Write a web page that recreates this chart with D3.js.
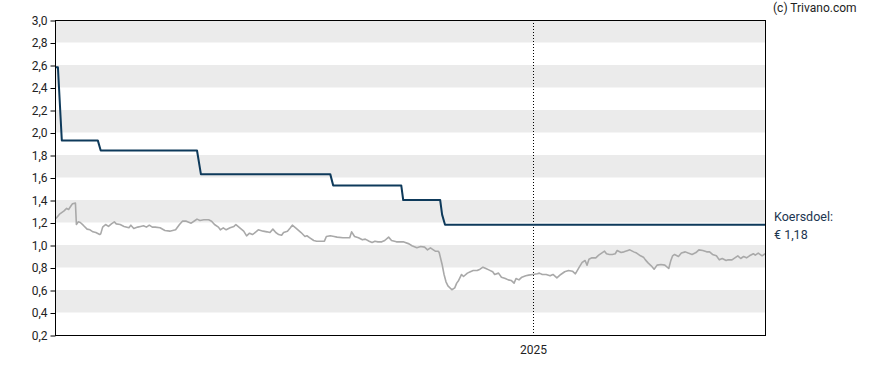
<!DOCTYPE html>
<html>
<head>
<meta charset="utf-8">
<script src="https://cdn.jsdelivr.net/npm/d3@7"></script>
<style>
  body { margin: 0; background: #fff; }
  svg { display: block; font-family: Roboto, "Noto Sans", sans-serif; }
</style>
</head>
<body>
<div id="chart"></div>
<script>
// start of the date axis, all day offsets below count from here
var startDate = "2023-08-29"
var endDay = 731

// koersdoel (price target), step line
var targetDay = [0, 3, 7, 44, 47, 146, 150, 283, 286, 356, 358, 396, 398, 401, 731]
var targetValue = [2.58, 2.58, 1.93, 1.93, 1.84, 1.84, 1.63, 1.63, 1.53, 1.53, 1.40, 1.40, 1.27, 1.18, 1.18]

// share price
var priceDay = [1, 5, 9, 12, 14, 16, 18, 21, 22, 24, 26, 29, 33, 36, 39, 42, 46, 47, 49, 52,
  55, 58, 61, 63, 67, 71, 76, 78, 81, 85, 88, 91, 94, 97, 100, 103, 108, 113, 118, 124,
  128, 131, 135, 140, 144, 146, 149, 153, 158, 161, 164, 168, 170, 173, 176, 180, 184, 186, 190, 194,
  197, 200, 203, 205, 209, 214, 218, 221, 224, 227, 230, 233, 235, 239, 242, 244, 248, 253, 257, 259,
  262, 266, 269, 273, 277, 279, 283, 287, 290, 296, 301, 303, 305, 308, 312, 316, 319, 323, 326, 329,
  332, 336, 339, 343, 346, 351, 358, 364, 367, 372, 376, 380, 383, 386, 389, 391, 394, 395, 398, 400,
  402, 404, 408, 411, 413, 415, 418, 420, 424, 427, 430, 434, 437, 440, 443, 446, 450, 452, 456, 459,
  463, 466, 469, 472, 474, 477, 480, 484, 487, 491, 496, 498, 501, 505, 509, 512, 516, 520, 524, 528,
  532, 535, 539, 542, 545, 547, 549, 552, 556, 559, 562, 565, 567, 570, 573, 576, 578, 582, 585, 589,
  591, 595, 598, 602, 605, 607, 610, 613, 616, 619, 623, 627, 631, 633, 635, 637, 641, 644, 648, 651,
  655, 659, 662, 666, 670, 673, 676, 680, 683, 686, 690, 692, 696, 699, 702, 705, 708, 711, 714, 718,
  720, 723, 727, 730]
var priceValue = [1.236, 1.277, 1.301, 1.325, 1.316, 1.342, 1.366, 1.372, 1.182, 1.206, 1.200, 1.176, 1.141, 1.135, 1.117, 1.111, 1.093, 1.099, 1.159, 1.182,
  1.165, 1.188, 1.206, 1.188, 1.182, 1.165, 1.153, 1.176, 1.147, 1.159, 1.165, 1.171, 1.159, 1.176, 1.159, 1.159, 1.153, 1.129, 1.123, 1.135,
  1.182, 1.212, 1.212, 1.194, 1.218, 1.230, 1.218, 1.224, 1.224, 1.212, 1.182, 1.159, 1.135, 1.153, 1.135, 1.153, 1.165, 1.182, 1.153, 1.123,
  1.081, 1.105, 1.093, 1.105, 1.135, 1.123, 1.117, 1.111, 1.141, 1.111, 1.093, 1.087, 1.111, 1.123, 1.153, 1.176, 1.147, 1.111, 1.076, 1.082,
  1.064, 1.040, 1.034, 1.034, 1.034, 1.076, 1.082, 1.076, 1.070, 1.064, 1.064, 1.064, 1.117, 1.076, 1.064, 1.046, 1.052, 1.034, 1.022, 1.034,
  1.028, 1.028, 1.040, 1.070, 1.040, 1.028, 1.028, 1.010, 0.993, 0.975, 0.987, 0.981, 0.957, 0.975, 0.957, 0.945, 0.945, 0.933, 0.827, 0.738,
  0.673, 0.637, 0.602, 0.619, 0.661, 0.685, 0.738, 0.720, 0.750, 0.762, 0.773, 0.773, 0.785, 0.803, 0.791, 0.779, 0.762, 0.738, 0.750, 0.714,
  0.702, 0.690, 0.685, 0.661, 0.702, 0.690, 0.714, 0.726, 0.732, 0.738, 0.744, 0.750, 0.738, 0.738, 0.726, 0.738, 0.708, 0.738, 0.762, 0.773,
  0.767, 0.744, 0.803, 0.845, 0.862, 0.821, 0.874, 0.886, 0.886, 0.910, 0.928, 0.945, 0.922, 0.916, 0.916, 0.922, 0.951, 0.933, 0.939, 0.951,
  0.957, 0.939, 0.928, 0.904, 0.892, 0.868, 0.839, 0.815, 0.785, 0.821, 0.827, 0.821, 0.791, 0.857, 0.904, 0.916, 0.898, 0.928, 0.939, 0.928,
  0.916, 0.933, 0.957, 0.951, 0.939, 0.939, 0.916, 0.904, 0.868, 0.880, 0.862, 0.868, 0.868, 0.886, 0.904, 0.880, 0.898, 0.886, 0.904, 0.922,
  0.910, 0.928, 0.904, 0.922]

var yTicks = [0.2, 0.4, 0.6, 0.8, 1.0, 1.2, 1.4, 1.6, 1.8, 2.0, 2.2, 2.4, 2.6, 2.8, 3.0]
var xTickDates = ["2025-01-01"]
var xTickLabels = ["2025"]
var targetLabel = ["Koersdoel:", "€ 1,18"]
var credit = "(c) Trivano.com"

var W = 888, H = 370
var margin = { top: 20, right: 122, bottom: 35, left: 55 }
var width = W - margin.left - margin.right
var height = H - margin.top - margin.bottom

var parse = d3.timeParse("%Y-%m-%d")
var start = parse(startDate)
var toDate = function(n) { return d3.timeDay.offset(start, n) }

var svg = d3.select("#chart").append("svg")
    .attr("width", W)
    .attr("height", H)

var g = svg.append("g")
    .attr("transform", "translate(" + margin.left + "," + margin.top + ")")

var x = d3.scaleTime()
    .domain([start, toDate(endDay)])
    .range([0, width])
var y = d3.scaleLinear()
    .domain([0.2, 3.0])
    .range([height, 0])

// alternating bands, gray from the top down
for (var i = 0; i < yTicks.length - 1; i++) {
    if (i % 2 == 1) continue
    var hi = yTicks[yTicks.length - 1 - i], lo = yTicks[yTicks.length - 2 - i]
    g.append("rect")
        .attr("x", 0)
        .attr("y", y(hi))
        .attr("width", width)
        .attr("height", y(lo) - y(hi))
        .attr("fill", "#ebebeb")
}

// year divider
xTickDates.forEach(function(d) {
    var xp = Math.round(x(parse(d))) + 0.5
    g.append("line")
        .attr("x1", xp).attr("x2", xp)
        .attr("y1", 0).attr("y2", height)
        .attr("stroke", "#000")
        .attr("stroke-width", 1)
        .attr("stroke-dasharray", "1,2")
})

// price line
var priceData = priceDay.map(function(d, i) { return { date: toDate(d), v: priceValue[i] } })
g.append("path")
    .datum(priceData)
    .attr("d", d3.line().x(d => x(d.date)).y(d => y(d.v)))
    .attr("fill", "none")
    .attr("stroke", "#a9a9a9")
    .attr("stroke-width", 1.6)
    .attr("stroke-linejoin", "round")

// target line
var targetData = targetDay.map(function(d, i) { return { date: toDate(d), v: targetValue[i] } })
g.append("path")
    .datum(targetData)
    .attr("d", d3.line().x(d => x(d.date)).y(d => y(d.v)))
    .attr("fill", "none")
    .attr("stroke", "#0e3a5b")
    .attr("stroke-width", 2)
    .attr("stroke-linejoin", "round")

// frame
g.append("rect")
    .attr("x", 0.5).attr("y", 0.5)
    .attr("width", width - 1).attr("height", height)
    .attr("fill", "none")
    .attr("stroke", "#000")
    .attr("stroke-width", 1)

// y axis
var yAxis = g.append("g")
    .attr("transform", "translate(0.5,0.5)")
    .call(d3.axisLeft(y).tickValues(yTicks).tickSize(5).tickPadding(3)
        .tickFormat(d => d3.format(".1f")(d).replace(".", ",")))
yAxis.select(".domain").remove()
yAxis.selectAll("text")
    .attr("fill", "#222")
    .style("font-size", "12px")
    .style("font-family", "Roboto, sans-serif")

// x axis
var xAxis = g.append("g")
    .attr("transform", "translate(0.5," + (height + 0.5) + ")")
    .call(d3.axisBottom(x).tickValues(xTickDates.map(parse)).tickSize(0).tickPadding(10)
        .tickFormat((d, i) => xTickLabels[i]))
xAxis.select(".domain").remove()
xAxis.selectAll("text")
    .attr("fill", "#222")
    .style("font-size", "12px")
    .style("font-family", "Roboto, sans-serif")

// label for the target at the right
var last = targetValue[targetValue.length - 1]
svg.append("text")
    .attr("x", margin.left + width + 8)
    .attr("y", margin.top + y(last) - 4)
    .attr("fill", "#1c3550")
    .style("font-size", "12.5px")
    .text(targetLabel[0])
svg.append("text")
    .attr("x", margin.left + width + 8)
    .attr("y", margin.top + y(last) + 14)
    .attr("fill", "#1c3550")
    .style("font-size", "12.5px")
    .text(targetLabel[1])

svg.append("text")
    .attr("x", 773)
    .attr("y", 12)
    .attr("fill", "#222")
    .style("font-size", "12px")
    .text(credit)
</script>
</body>
</html>
